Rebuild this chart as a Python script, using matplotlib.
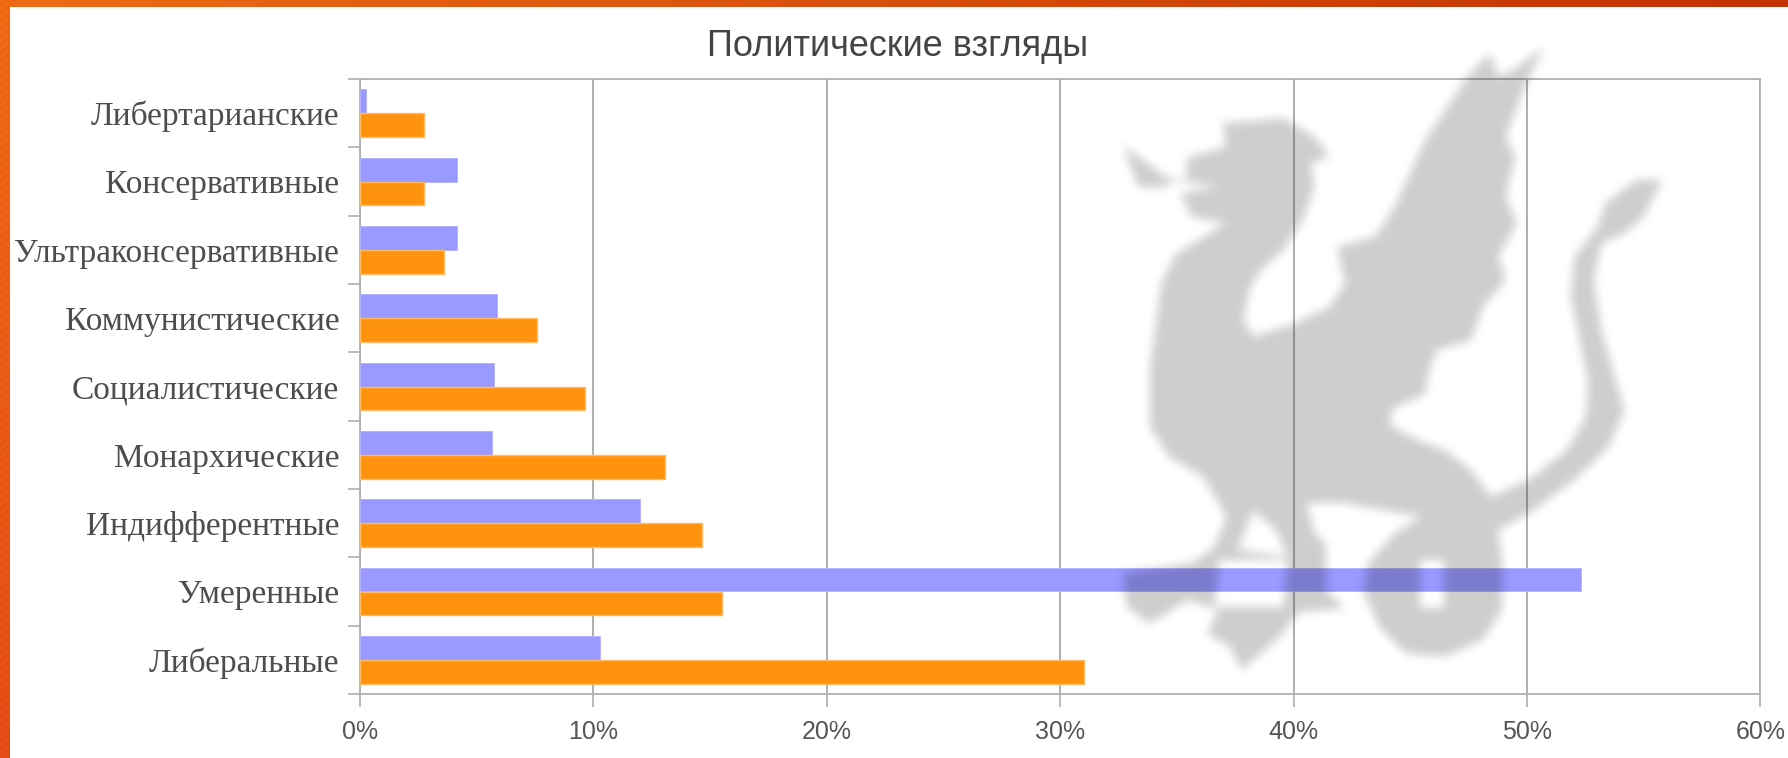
import numpy as np
import matplotlib
matplotlib.use("Agg")
import matplotlib.pyplot as plt
from matplotlib.path import Path

# ── Data ─────────────────────────────────────────────────────────────────────
categories = ["Либертарианские", "Консервативные", "Ультраконсервативные",
              "Коммунистические", "Социалистические", "Монархические",
              "Индифферентные", "Умеренные", "Либеральные"]
purple_values = [0.25, 4.15, 4.15, 5.85, 5.75, 5.65, 12.0, 52.3, 10.3]
orange_values = [2.75, 2.75, 3.6, 7.6, 9.65, 13.05, 14.65, 15.5, 31.0]
x_ticks = [0, 10, 20, 30, 40, 50, 60]
title_text = "Политические взгляды"

W, H = 1788, 758
AX_L, AX_R, AX_T, AX_B = 360, 1760.5, 79, 694

dragon_upper = [(60, 345), (125, 400), (175, 445), (230, 445), (225, 385), (330, 350),
                (320, 280), (480, 265), (560, 320), (600, 380), (550, 400), (560, 470),
                (530, 570), (480, 660), (420, 720), (390, 780), (375, 870), (400, 920),
                (510, 880), (600, 830), (640, 760), (620, 650), (720, 620), (770, 530),
                (850, 330), (960, 140), (1020, 70), (1040, 140), (1080, 120), (1160, 50),
                (1110, 170), (1060, 320), (1085, 380), (1060, 500), (1090, 580),
                (1040, 680), (1060, 750), (1000, 830), (970, 930), (880, 960), (860, 1020)]
dragon_lower = [(850, 100), (760, 150), (760, 200), (830, 240), (900, 270), (970, 330),
                (1020, 410), (1120, 360), (1220, 270), (1270, 170), (1275, 60)]
tail_upper = [(1230, 800), (1240, 680), (1300, 590), (1320, 520), (1400, 450), (1470, 450),
              (1420, 560), (1370, 610), (1310, 640), (1290, 750), (1310, 900), (1340, 1020)]
dragon_bottom = [(1370, 150), (1330, 260), (1240, 360), (1120, 460), (1040, 510), (1050, 600),
                 (1050, 750), (1000, 840), (900, 890), (800, 880), (730, 800), (690, 700),
                 (700, 610), (770, 520), (840, 470), (640, 430), (540, 430), (560, 520),
                 (590, 550), (590, 690), (640, 745), (520, 755), (470, 830), (370, 930),
                 (340, 860), (280, 820), (310, 750), (230, 720), (130, 790), (70, 740),
                 (60, 640), (240, 610), (300, 560), (330, 470), (270, 350), (180, 290),
                 (130, 200), (130, 30)]
dragon_left = [(130, 1020), (160, 760), (200, 670), (330, 580), (240, 560), (210, 490),
               (310, 470), (200, 450), (170, 470), (100, 470)]
dragon_holes = [[(400, 450), (360, 570), (490, 590), (460, 510)],
                [(310, 600), (490, 600), (480, 740), (300, 740)],
                [(835, 600), (900, 600), (900, 745), (835, 745)]]


def from_crop_a(pts):
    return [(1100 + x / 2.613, 30 + y / 3) for x, y in pts]


def from_crop_b(pts):
    return [(1100 + x / 2.613, 360 + y / 3) for x, y in pts]


def box_blur(a, r):
    for axis in (0, 1):
        c = np.cumsum(np.insert(a, 0, 0, axis=axis), axis=axis)
        n = a.shape[axis]
        lo = np.clip(np.arange(n) - r, 0, n)
        hi = np.clip(np.arange(n) + r + 1, 0, n)
        a = (np.take(c, hi, axis=axis) - np.take(c, lo, axis=axis)) / (2 * r + 1)
    return a


def dragon_mask():
    outline = (from_crop_a(dragon_upper) + from_crop_b(dragon_lower)
               + from_crop_a(tail_upper) + from_crop_b(dragon_bottom)
               + from_crop_a(dragon_left))
    xx, yy = np.meshgrid(np.arange(W) + 0.5, np.arange(H) + 0.5)
    pts = np.column_stack([xx.ravel(), yy.ravel()])
    mask = Path(outline).contains_points(pts)
    for hole in dragon_holes:
        mask &= ~Path(from_crop_b(hole)).contains_points(pts)
    m = mask.reshape(H, W).astype(float)
    for _ in range(3):
        m = box_blur(m, 4)
    return m


def border_image():
    xx, yy = np.meshgrid(np.arange(W), np.arange(H))
    t = (xx / W)[..., None]
    # orange frame, getting darker to the right and to the bottom
    start = np.array([238, 104, 20]) - (yy / H)[..., None] * np.array([12, 30, 0])
    end = np.array([190, 48, 0])
    rgb = start * (1 - t) + end * t
    stripes = ((xx + yy) % 8 < 4)[..., None] * 4.0
    return np.clip(rgb + stripes, 0, 255) / 255


# ── Figure ───────────────────────────────────────────────────────────────────
fig = plt.figure(figsize=(W / 100, H / 100), dpi=100, facecolor="white")

bg = fig.add_axes([0, 0, 1, 1], zorder=0)
bg.imshow(border_image(), extent=(0, W, H, 0), aspect="auto")
bg.fill_between([10, W], [7, 7], [H, H], color="white", lw=0)
bg.set_xlim(0, W)
bg.set_ylim(H, 0)
bg.axis("off")

ax = fig.add_axes([AX_L / W, 1 - AX_B / H, (AX_R - AX_L) / W, (AX_B - AX_T) / H], zorder=1)
ax.patch.set_alpha(0)

y = np.arange(len(categories))
bar_h = 0.35
ax.barh(y - bar_h / 2, purple_values, bar_h, color="#9999ff", edgecolor="#b3b3ff",
        linewidth=0.7, zorder=3)
ax.barh(y + bar_h / 2, orange_values, bar_h, color="#ff930d", edgecolor="#ffbc66",
        linewidth=1.0, zorder=3)

ax.set_xlim(0, 60)
ax.set_ylim(len(categories) - 0.5, -0.5)
ax.set_xticks(x_ticks)
ax.set_xticklabels([f"{v}%" for v in x_ticks], fontsize=18,
                   family="Liberation Sans", color="#555555")
ax.set_yticks(np.arange(len(categories) + 1) - 0.5)
ax.set_yticklabels([])
ax.set_yticks(y, minor=True)
ax.set_yticklabels(categories, minor=True, fontsize=24,
                   family="Liberation Serif", color="#4d4d4d")
ax.tick_params(axis="x", which="major", length=9, width=1.1, color="#a8a8a8", pad=10)
ax.tick_params(axis="y", which="major", length=9, width=1.1, color="#a8a8a8")
ax.tick_params(axis="y", which="minor", length=0, pad=15)
ax.grid(axis="x", color="#a8a8a8", linewidth=1.3, zorder=1)
ax.set_axisbelow(True)
for spine in ax.spines.values():
    spine.set_color("#b0b0b0")
    spine.set_linewidth(1.3)

fig.text(898 / W, 1 - 46 / H, title_text, fontsize=26, family="Liberation Sans",
         color="#444444", ha="center", va="center")

# watermark sits over the bars and darkens them
top = fig.add_axes([0, 0, 1, 1], zorder=2)
rgba = np.zeros((H, W, 4))
rgba[..., :3] = 0.03
rgba[..., 3] = dragon_mask() * 0.2
top.imshow(rgba, extent=(0, W, H, 0), aspect="auto", interpolation="nearest")
top.set_xlim(0, W)
top.set_ylim(H, 0)
top.axis("off")
top.patch.set_alpha(0)

fig.savefig("out.png", dpi=100)
